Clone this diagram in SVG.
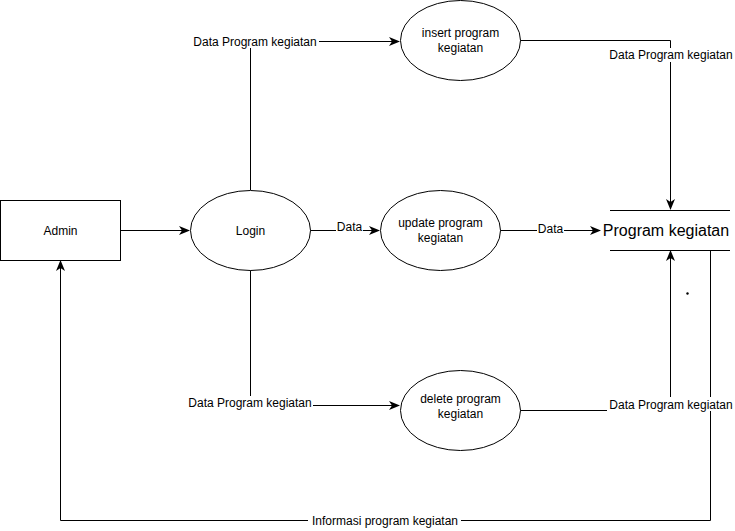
<svg xmlns="http://www.w3.org/2000/svg" width="735" height="531" viewBox="0 0 735 531">
<defs>
<style>
.n{fill:#fff;stroke:#000;stroke-width:1}
.e{fill:none;stroke:#000;stroke-width:1}
.t{font-family:"Liberation Sans",Arial,sans-serif;font-size:12px;fill:#000;text-anchor:middle}
.lb{fill:#fff;stroke:none}
</style>
<marker id="a" viewBox="0 0 11 9" refX="10" refY="4.5" markerWidth="11" markerHeight="9" markerUnits="userSpaceOnUse" orient="auto">
<path d="M0,0 L11,4.5 L0,9 L3,4.5 Z" fill="#000"/>
</marker>
</defs>
<rect width="735" height="531" fill="#fff"/>
<g id="connectors">
<path class="e" d="M120.5,230.5 H189" marker-end="url(#a)"/>
<path class="e" d="M250.5,190 V41.5 H399" marker-end="url(#a)"/>
<path class="e" d="M520,40.5 H670.5 V209" marker-end="url(#a)"/>
<path class="e" d="M310,230.5 H379" marker-end="url(#a)"/>
<path class="e" d="M500,230.5 H600" marker-end="url(#a)"/>
<path class="e" d="M250.5,270 V405.5 H399" marker-end="url(#a)"/>
<path class="e" d="M520,410.5 H670.5 V251" marker-end="url(#a)"/>
<path class="e" d="M710.5,250 V520.5 H60.5 V261" marker-end="url(#a)"/>
<rect class="lb" x="191" y="34" width="128" height="14"/>
<text class="t" x="255" y="45.5">Data Program kegiatan</text>
<rect class="lb" x="607" y="48" width="128" height="14"/>
<text class="t" x="671" y="59">Data Program kegiatan</text>
<rect class="lb" x="336" y="223" width="27" height="10"/>
<text class="t" x="349.5" y="231">Data</text>
<rect class="lb" x="537" y="224" width="27" height="10"/>
<text class="t" x="550.5" y="233">Data</text>
<rect class="lb" x="186" y="396" width="127" height="13"/>
<text class="t" x="250" y="407">Data Program kegiatan</text>
<rect class="lb" x="607" y="397" width="128" height="14"/>
<text class="t" x="671" y="408.5">Data Program kegiatan</text>
<rect class="lb" x="308" y="513" width="153" height="13"/>
<text class="t" x="385" y="524.5">Informasi program kegiatan</text>
</g>
<g id="admin">
<rect class="n" x="0.5" y="200.5" width="120" height="60"/>
<text class="t" x="60.5" y="234.5">Admin</text>
</g>
<g id="login">
<ellipse class="n" cx="250.5" cy="230.5" rx="60" ry="40"/>
<text class="t" x="250.5" y="234.5">Login</text>
</g>
<g id="insert">
<ellipse class="n" cx="460.5" cy="40.5" rx="60" ry="40"/>
<text class="t" x="460.5" y="36.5">insert program</text>
<text class="t" x="460.5" y="51.5">kegiatan</text>
</g>
<g id="update">
<ellipse class="n" cx="440.5" cy="230.5" rx="60" ry="40"/>
<text class="t" x="440.5" y="226.5">update program</text>
<text class="t" x="440.5" y="241.5">kegiatan</text>
</g>
<g id="delete">
<ellipse class="n" cx="460.5" cy="410.5" rx="60" ry="40"/>
<text class="t" x="460.5" y="402.5">delete program</text>
<text class="t" x="460.5" y="417.5">kegiatan</text>
</g>
<g id="store">
<path class="e" d="M610,210.5 H730 M610,250.5 H730"/>
<text class="t" x="666" y="236" style="font-size:16px">Program kegiatan</text>
</g>
<circle cx="687.5" cy="293.5" r="1.2" fill="#000"/>
</svg>
